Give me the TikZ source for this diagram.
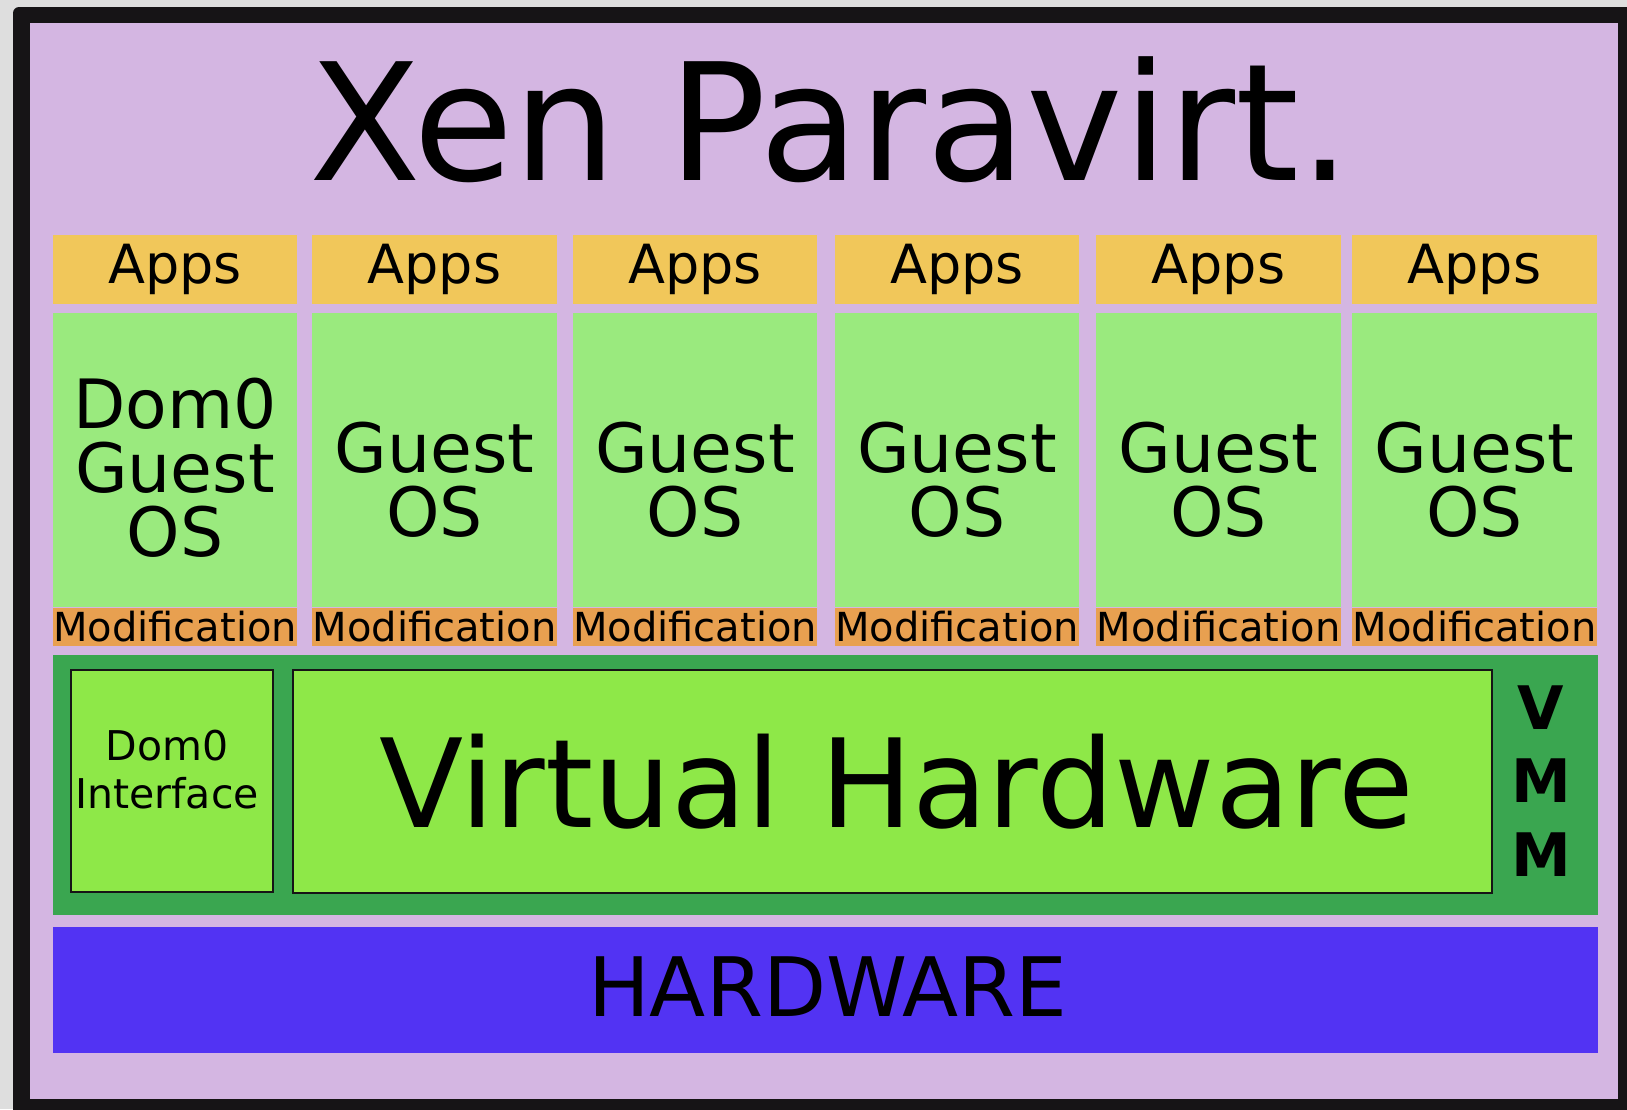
\documentclass[tikz,border=0pt]{standalone}
\usepackage{fontspec}
\setmainfont{DejaVu Sans}
\usetikzlibrary{positioning}

\definecolor{pagegray}{RGB}{222,222,222}
\definecolor{framegray}{RGB}{22,20,22}
\definecolor{lilac}{RGB}{212,182,226}
\definecolor{appsyellow}{RGB}{241,199,90}
\definecolor{osgreen}{RGB}{154,234,126}
\definecolor{modorange}{RGB}{232,160,80}
\definecolor{vmmgreen}{RGB}{58,166,80}
\definecolor{hwgreen}{RGB}{142,232,72}
\definecolor{hwblue}{RGB}{82,51,243}

\begin{document}
\begin{tikzpicture}
		[x=1pt, y=-1pt,
		every node/.style={inner sep=0pt, outer sep=0pt, align=center},
		appsbox/.style={fill=appsyellow, minimum height=69pt, font=\fontsize{54}{60}\selectfont},
		osbox/.style={fill=osgreen, minimum height=294pt},
		modbox/.style={fill=modorange, minimum height=38pt, font=\fontsize{40}{46}\selectfont},
		oslabel/.style={font=\fontsize{68}{64}\selectfont},
		innerbox/.style={fill=hwgreen, draw=framegray, line width=2pt},
		]

		\useasboundingbox (0,0) rectangle (1627,1109);
		\clip (0,0) rectangle (1627,1109);
		\fill[pagegray] (0,0) rectangle (1627,1109);
		\fill[framegray, rounded corners=6pt] (13,7) rectangle (1660,1140);
		\fill[lilac] (30,23) rectangle (1618,1099);

		\node[anchor=base, font=\fontsize{163}{190}\selectfont] (title) at (830,180) {Xen Paravirt.};

		% one column per domain
		\foreach \l/\r/\ty/\txt [count=\i] in {53/297/468/{Dom0\\Guest\\OS}, 312/557/480/{Guest\\OS},
				573/817/480/{Guest\\OS}, 835/1079/480/{Guest\\OS}, 1096/1341/480/{Guest\\OS}, 1352/1597/480/{Guest\\OS}}
		{
			\node[appsbox, minimum width={(\r-\l)*1pt}] (apps\i) at ({(\l+\r)/2},269.5) {Apps};
			\node[osbox, minimum width={(\r-\l)*1pt}] (os\i) at ({(\l+\r)/2},460) {};
			\node[modbox, minimum width={(\r-\l)*1pt}] (mod\i) at ({(\l+\r)/2},627) {Modification};
			\node[oslabel] (oslabel\i) at ({(\l+\r)/2},\ty) {\txt};
		}

		\node[fill=vmmgreen, minimum width=1545pt, minimum height=260pt] (vmm) at (825.5,785) {};
		\node[innerbox, minimum width=202pt, minimum height=222pt] (dom0if) at (172,781) {};
		\node[font=\fontsize{41}{48}\selectfont] (dom0label) at (167,770) {Dom0\\Interface};
		\node[innerbox, minimum width=1199pt, minimum height=223pt] (virthw) at (892.5,781.5) {};
		\node[font=\fontsize{123}{140}\selectfont] (virthwlabel) at (896.5,781.5) {Virtual Hardware};
		\node[font=\fontsize{60}{73.5}\selectfont\bfseries] (vmmlabel) at (1541,781) {V\\M\\M};

		\node[fill=hwblue, minimum width=1545pt, minimum height=126pt] (hw) at (825.5,990) {};
		\node[font=\fontsize{82}{95}\selectfont] (hwlabel) at (828,987) {HARDWARE};
	\end{tikzpicture}
\end{document}
